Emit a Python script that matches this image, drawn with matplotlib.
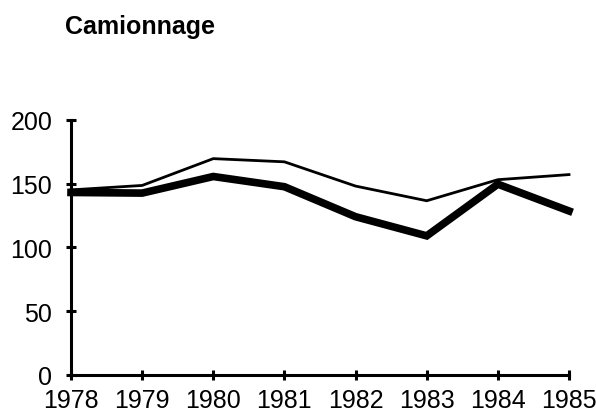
import matplotlib
matplotlib.use('Agg')
import matplotlib.pyplot as plt

plt.rcParams['font.family'] = ['Liberation Sans', 'DejaVu Sans']

# données
annees = [1978, 1979, 1980, 1981, 1982, 1983, 1984, 1985]
serie_fine = [145, 148.5, 169.5, 167, 148, 136.5, 153, 157]
serie_epaisse = [143, 142.5, 155.5, 147.5, 124, 109, 149.5, 128.5]
yticks = [0, 50, 100, 150, 200]

fig = plt.figure(figsize=(5.96, 4.14), dpi=100)
ax = fig.add_axes([71/596, 1 - 376/414, (569 - 71)/596, (376 - 120.7)/414])

ax.plot(annees, serie_fine, color='black', lw=2.0, solid_joinstyle='miter', clip_on=False)
ax.plot(annees, serie_epaisse, color='black', lw=5.5, solid_joinstyle='miter', clip_on=False)

ax.set_xlim(1978, 1985)
ax.set_ylim(0, 200)
ax.set_xticks(annees)
ax.set_yticks(yticks)

ax.spines['top'].set_visible(False)
ax.spines['right'].set_visible(False)
ax.spines['left'].set_linewidth(2.2)
ax.spines['bottom'].set_linewidth(2.2)
ax.tick_params(direction='inout', length=7, width=2.2, labelsize=18, colors='black')
ax.tick_params(axis='y', pad=10)
ax.tick_params(axis='x', pad=6)
for lab in ax.get_yticklabels():
    lab.set_verticalalignment('center_baseline')

fig.text(65/596, 1 - 34/414, 'Camionnage', fontsize=18, fontweight='bold', va='baseline', ha='left')

plt.savefig('out.png', dpi=100, facecolor='white')
